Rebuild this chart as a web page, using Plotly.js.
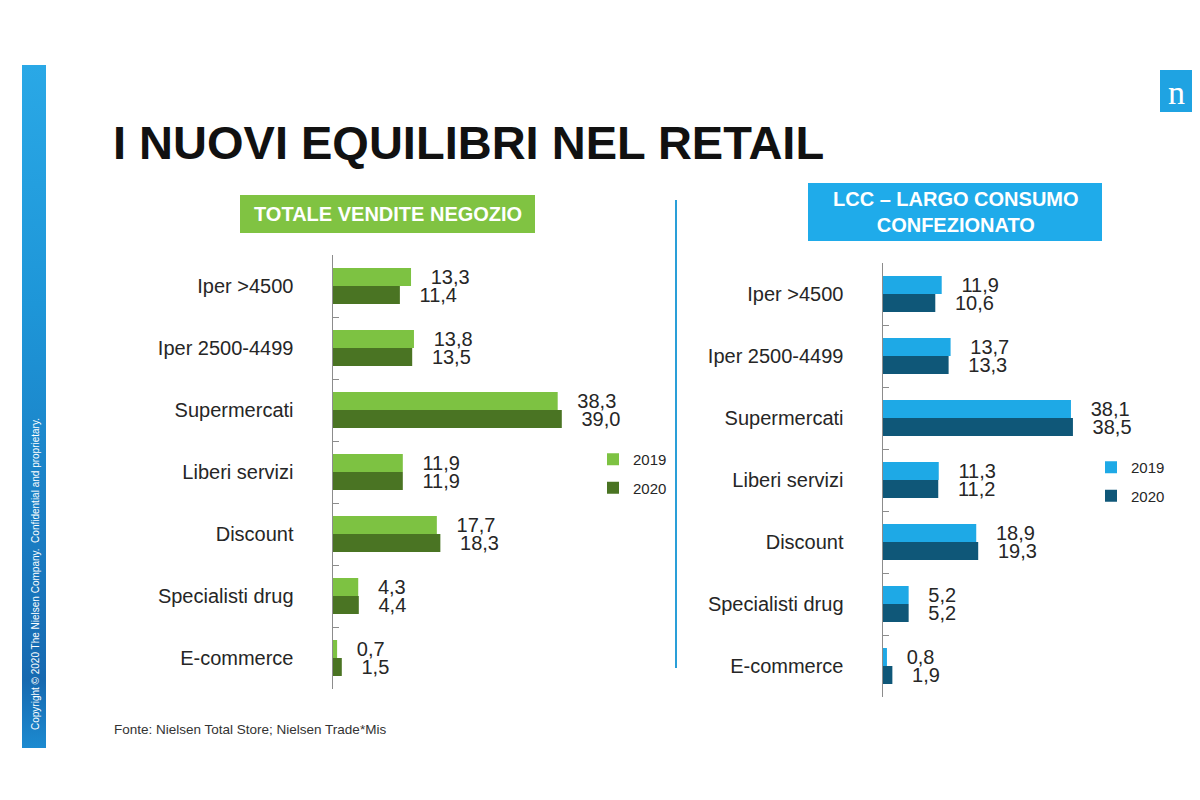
<!DOCTYPE html>
<html>
<head>
<meta charset="utf-8">
<script src="https://cdn.plot.ly/plotly-3.0.1.min.js"></script>
<style>html,body{margin:0;padding:0;background:#fff;}#chart{width:1200px;height:800px;}</style>
</head>
<body>
<div id="chart"></div>
<script>
// ---- Data ----
const categories = ["Iper >4500", "Iper 2500-4499", "Supermercati", "Liberi servizi", "Discount", "Specialisti drug", "E-commerce"];
const totale2019 = [13.3, 13.8, 38.3, 11.9, 17.7, 4.3, 0.7];
const totale2020 = [11.4, 13.5, 39.0, 11.9, 18.3, 4.4, 1.5];
const lcc2019 = [11.9, 13.7, 38.1, 11.3, 18.9, 5.2, 0.8];
const lcc2020 = [10.6, 13.3, 38.5, 11.2, 19.3, 5.2, 1.9];
const seriesNames = ["2019", "2020"];
const mainTitle = "I NUOVI EQUILIBRI NEL RETAIL";
const leftTitle = "TOTALE VENDITE NEGOZIO";
const rightTitle = "LCC – LARGO CONSUMO<br>CONFEZIONATO";
const sourceNote = "Fonte: Nielsen Total Store; Nielsen Trade*Mis";
const copyrightNote = "Copyright © 2020 The Nielsen Company.  Confidential and proprietary.";

// ---- Styles ----
const FONT = "Arial, 'Liberation Sans', sans-serif";
const C = {g1: "#7dc242", g2: "#4a7423", b1: "#1ea9e6", b2: "#0f5778"};
const NBSP = "\u00a0\u00a0\u00a0";

function barTrace(vals, name, color, xa, ya, leg) {
  return {
    type: "bar", orientation: "h",
    y: categories, x: vals, name: name,
    xaxis: xa, yaxis: ya, legend: leg, legendgroup: leg + name,
    marker: {color: color},
    text: vals.map(v => NBSP + v.toFixed(1).replace(".", ",")),
    textposition: "outside", constraintext: "none", cliponaxis: false,
    textfont: {family: FONT, size: 20, color: "#262626"},
    hoverinfo: "x+y+name"
  };
}

const data = [
  barTrace(totale2019, seriesNames[0], C.g1, "x", "y", "legend"),
  barTrace(totale2020, seriesNames[1], C.g2, "x", "y", "legend"),
  barTrace(lcc2019, seriesNames[0], C.b1, "x2", "y2", "legend2"),
  barTrace(lcc2020, seriesNames[1], C.b2, "x2", "y2", "legend2")
];

function yAx(domain) {
  return {
    domain: domain, type: "category", autorange: "reversed",
    showline: true, linecolor: "#8c8c8c", linewidth: 1.5,
    ticks: "inside", tickson: "boundaries", ticklen: 6, tickcolor: "#8c8c8c",
    ticklabelstandoff: 34, showgrid: false, zeroline: false,
    tickfont: {family: FONT, size: 20, color: "#262626"}, fixedrange: true
  };
}
function xAx(domain, anchor) {
  return {domain: domain, range: [0, 45], anchor: anchor, visible: false, fixedrange: true};
}
function legendCfg(x, y) {
  return {x: x, y: y, xanchor: "left", yanchor: "top", tracegroupgap: 6,
    font: {family: FONT, size: 15, color: "#262626"}, bgcolor: "rgba(0,0,0,0)",
    itemwidth: 30, traceorder: "grouped"};
}

const gradSvg = '<svg xmlns="http://www.w3.org/2000/svg" width="24" height="683" viewBox="0 0 24 683"><defs><linearGradient id="g" x1="0" y1="0" x2="0" y2="1"><stop offset="0" stop-color="#2aa8e6"/><stop offset="0.35" stop-color="#1e96d8"/><stop offset="0.7" stop-color="#1a7cc2"/><stop offset="0.9" stop-color="#1669b0"/><stop offset="1" stop-color="#1c8ad0"/></linearGradient></defs><rect width="24" height="683" fill="url(#g)"/></svg>';

const layout = {
  width: 1200, height: 800,
  margin: {l: 0, r: 0, t: 0, b: 0},
  paper_bgcolor: "#ffffff", plot_bgcolor: "rgba(0,0,0,0)",
  font: {family: FONT},
  barmode: "group", bargap: 0.42, bargroupgap: 0,
  separators: ",.",
  xaxis: xAx([333/1200, 597/1200], "y"),
  yaxis: yAx([1 - 689/800, 1 - 255/800]),
  xaxis2: xAx([883/1200, 1105/1200], "y2"),
  yaxis2: Object.assign(yAx([1 - 697/800, 1 - 263/800]), {anchor: "x2"}),
  showlegend: true,
  legend: legendCfg(593/1200, 1 - 443/800),
  legend2: legendCfg(1091/1200, 1 - 451/800),
  images: [{
    source: "data:image/svg+xml;charset=utf-8," + encodeURIComponent(gradSvg),
    xref: "paper", yref: "paper", x: 22/1200, y: 1 - 65/800,
    sizex: 24/1200, sizey: 683/800, sizing: "stretch", layer: "below"
  }],
  shapes: [
    {type: "rect", xref: "paper", yref: "paper", x0: 240/1200, x1: 535/1200, y0: 1 - 233/800, y1: 1 - 195/800, fillcolor: "#80c342", line: {width: 0}},
    {type: "rect", xref: "paper", yref: "paper", x0: 808/1200, x1: 1102/1200, y0: 1 - 241/800, y1: 1 - 183/800, fillcolor: "#1fabea", line: {width: 0}},
    {type: "line", xref: "paper", yref: "paper", x0: 676/1200, x1: 676/1200, y0: 1 - 668/800, y1: 1 - 200/800, line: {color: "#2a9fd8", width: 2}},
    {type: "rect", xref: "paper", yref: "paper", x0: 1160/1200, x1: 1192/1200, y0: 1 - 112/800, y1: 1 - 70/800, fillcolor: "#1fa3e2", line: {width: 0}}
  ],
  annotations: [
    {text: "<b>" + mainTitle + "</b>", xref: "paper", yref: "paper", x: 111/1200, y: 1 - 142/800, xanchor: "left", yanchor: "middle", showarrow: false, font: {family: FONT, size: 47, color: "#111"}},
    {text: "<b>" + leftTitle + "</b>", xref: "paper", yref: "paper", x: 388/1200, y: 1 - 214/800, xanchor: "center", yanchor: "middle", showarrow: false, font: {family: FONT, size: 20, color: "#ffffff"}},
    {text: "<b>" + rightTitle + "</b>", xref: "paper", yref: "paper", x: 956/1200, y: 1 - 212/800, xanchor: "center", yanchor: "middle", showarrow: false, font: {family: FONT, size: 20, color: "#ffffff"}},
    {text: sourceNote, xref: "paper", yref: "paper", x: 112/1200, y: 1 - 729/800, xanchor: "left", yanchor: "middle", showarrow: false, font: {family: FONT, size: 13.5, color: "#333"}},
    {text: copyrightNote, xref: "paper", yref: "paper", x: 35/1200, y: 1 - 732/800, xanchor: "center", yanchor: "bottom", textangle: -90, showarrow: false, font: {family: FONT, size: 10, color: "#ffffff"}},
    {text: "n", xref: "paper", yref: "paper", x: 1176/1200, y: 1 - 93/800, xanchor: "center", yanchor: "middle", showarrow: false, font: {family: "'Liberation Serif', 'DejaVu Serif', serif", size: 34, color: "#ffffff"}}
  ]
};

Plotly.newPlot("chart", data, layout, {staticPlot: true, displayModeBar: false});
</script>
</body>
</html>
